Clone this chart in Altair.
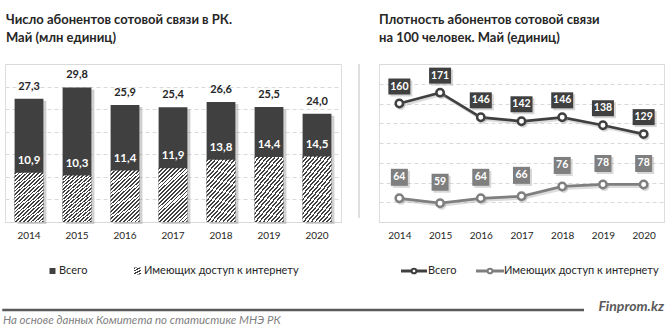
import altair as alt
import pandas as pd

# ---------------- data ----------------
years = ["2014", "2015", "2016", "2017", "2018", "2019", "2020"]
subs_total = [27.3, 29.8, 25.9, 25.4, 26.6, 25.5, 24.0]
subs_internet = [10.9, 10.3, 11.4, 11.9, 13.8, 14.4, 14.5]
dens_total = [160, 171, 146, 142, 146, 138, 129]
dens_internet = [64, 59, 64, 66, 76, 78, 78]

title_left = ["Число абонентов сотовой связи  в РК.", "Май (млн единиц)"]
title_right = ["Плотность абонентов сотовой связи", "на 100 человек. Май (единиц)"]
legend_labels = ["Всего", "Имеющих доступ к интернету"]
source_text = "На основе данных  Комитета по статистике МНЭ РК"
brand_text = "Finprom.kz"

# ---------------- styles ----------------
FONT = "Lato"
DARK = "#404040"
GREY = "#7f7f7f"
TXT = "#262626"
GRID = "#d9d9d9"
LW, LH = 336, 158
RW, RH = 285, 158


def hatch(n=34, frac=0.45):
    stops = []
    p = 1.0 / n
    for i in range(n):
        s = i * p
        m = s + frac * p
        e = min(s + p, 1.0)
        stops += [
            alt.GradientStop(offset=round(s, 5), color=DARK),
            alt.GradientStop(offset=round(m, 5), color=DARK),
            alt.GradientStop(offset=round(m, 5), color="white"),
            alt.GradientStop(offset=round(e, 5), color="white"),
        ]
    return alt.LinearGradient(gradient="linear", stops=stops, x1=0, y1=0, x2=1, y2=1.9)


left_df = pd.DataFrame({"year": years, "total": subs_total, "internet": subs_internet})
right_df = pd.DataFrame({"year": years, "total": dens_total, "internet": dens_internet})
dummy = alt.Data(values=[{"k": 1}])

x_axis = alt.Axis(title=None, labelAngle=0, ticks=False, domainColor=GRID, domainWidth=1,
                  labelPadding=8, labelFontSize=10, labelColor=TXT, labelFont=FONT, grid=False)

# ---------------- left chart ----------------
xL = alt.X("year:O", scale=alt.Scale(paddingInner=0.4, paddingOuter=0.2), axis=x_axis)
yax_L = alt.Axis(title=None, labels=False, ticks=False, domain=False, grid=True, tickCount=7,
                 gridDash=[4, 3], gridColor=GRID)


def yL(f):
    return alt.Y(f"{f}:Q", scale=alt.Scale(domain=[0, 35], nice=False), axis=yax_L)


lb = alt.Chart(left_df)
fmt = "replace(format(datum.{f},'.1f'),'.',',')"
l_shadow = lb.mark_bar(color="#8c8c8c", opacity=0.4, xOffset=3, yOffset=2).encode(x=xL, y=yL("total"))
l_bars = lb.mark_bar(color=DARK).encode(x=xL, y=yL("total"))
l_hatch = lb.mark_bar(fill=hatch(), strokeWidth=0).encode(x=xL, y=yL("internet"))
l_lab_tot = lb.transform_calculate(lbl=fmt.format(f="total")).mark_text(
    dy=-12, fontSize=11, fontWeight="bold", color=TXT, font=FONT).encode(x=xL, y=yL("total"), text="lbl:N")
l_lab_int = lb.transform_calculate(lbl=fmt.format(f="internet")).mark_text(
    dy=-12, fontSize=11.5, fontWeight="bold", color="white", font=FONT).encode(x=xL, y=yL("internet"), text="lbl:N")

d = alt.Chart(dummy)
anchor = d.mark_rule(opacity=0, strokeWidth=0).encode(
    x=alt.value(-4), x2=alt.value(-4), y=alt.value(-63), y2=alt.value(-63))
l_title = d.mark_text(text=title_left, align="left", baseline="middle", fontSize=13, fontWeight="bold",
                      color=TXT, font=FONT, lineHeight=18).encode(x=alt.value(1), y=alt.value(-44))
leg_sq = d.mark_square(color=DARK, size=36, opacity=1).encode(x=alt.value(47.5), y=alt.value(207))
leg_t1 = d.mark_text(text=legend_labels[0], align="left", baseline="middle", fontSize=11, color=TXT,
                     font=FONT).encode(x=alt.value(54), y=alt.value(207))
leg_hatch = d.mark_square(fill=hatch(6, 0.5), size=49, opacity=1, strokeWidth=0).encode(
    x=alt.value(132.5), y=alt.value(207))
leg_t2 = d.mark_text(text=legend_labels[1], align="left", baseline="middle", fontSize=11, color=TXT,
                     font=FONT).encode(x=alt.value(139), y=alt.value(207))
foot_rule = d.mark_rule(color="#595959", strokeWidth=2.5).encode(
    x=alt.value(-2.75), x2=alt.value(579), y=alt.value(246))
foot_brand = d.mark_text(text=brand_text, align="right", baseline="middle", fontSize=14, fontWeight="bold",
                         fontStyle="italic", color="#595959", font=FONT).encode(x=alt.value(659), y=alt.value(243))
foot_src = d.mark_text(text=source_text, align="left", baseline="middle", fontSize=11.5,
                       fontStyle="italic", color=GREY, font=FONT).encode(x=alt.value(-2), y=alt.value(257))

left = alt.layer(anchor, l_shadow, l_bars, l_hatch, l_lab_tot, l_lab_int, l_title,
                 leg_sq, leg_t1, leg_hatch, leg_t2, foot_rule, foot_brand, foot_src).properties(
    width=LW, height=LH)

# ---------------- right chart ----------------
xR = alt.X("year:O", scale=alt.Scale(type="point", padding=0.5), axis=x_axis)
yax_R = alt.Axis(title=None, labels=False, ticks=False, domain=False, grid=True, tickCount=8,
                 gridDash=[4, 3], gridColor=GRID)


def yR(f):
    return alt.Y(f"{f}:Q", scale=alt.Scale(domain=[40, 200], nice=False), axis=yax_R)


rb = alt.Chart(right_df)
BOX = "M-1,-0.727L1,-0.727L1,0.727L-1,0.727Z"
layers_r = []
for f, col, bshape, bsize, boff in [("total", DARK, BOX, 484, -17), ("internet", GREY, "square", 289, -21)]:
    layers_r.append(rb.mark_line(color="#9a9a9a", opacity=0.35, strokeWidth=3, xOffset=1.5, yOffset=2)
                    .encode(x=xR, y=yR(f)))
    layers_r.append(rb.mark_line(color=col, strokeWidth=2.75).encode(x=xR, y=yR(f)))
    layers_r.append(rb.mark_point(shape="circle", filled=True, color="#8c8c8c", opacity=0.35, size=80,
                                  xOffset=1.5, yOffset=2).encode(x=xR, y=yR(f)))
    layers_r.append(rb.mark_point(shape="circle", filled=True, fill="white", stroke=col, strokeWidth=2.5,
                                  size=55, opacity=1).encode(x=xR, y=yR(f)))
    layers_r.append(rb.mark_point(shape=bshape, filled=True, color="#8c8c8c", opacity=0.35, size=bsize,
                                  xOffset=2, yOffset=boff + 2).encode(x=xR, y=yR(f)))
    layers_r.append(rb.mark_point(shape=bshape, filled=True, color=col, opacity=1, size=bsize,
                                  yOffset=boff).encode(x=xR, y=yR(f)))
    layers_r.append(rb.mark_text(dy=boff, fontSize=10.5, fontWeight="bold", color="white", font=FONT)
                    .encode(x=xR, y=yR(f), text=f"{f}:Q"))

r_vline = d.mark_rule(color="#bfbfbf", strokeWidth=1).encode(
    x=alt.value(-20), y=alt.value(0), y2=alt.value(154))
r_title = d.mark_text(text=title_right, align="left", baseline="middle", fontSize=13, fontWeight="bold",
                      color=TXT, font=FONT, lineHeight=18).encode(x=alt.value(0), y=alt.value(-44))
r_leg = []
for (x1, x2, cx, tx), col, lab in [((22, 48, 35, 49), DARK, legend_labels[0]),
                                   ((97, 125, 111, 125), GREY, legend_labels[1])]:
    r_leg.append(d.mark_rule(color=col, strokeWidth=3).encode(x=alt.value(x1), x2=alt.value(x2), y=alt.value(207)))
    r_leg.append(d.mark_point(shape="circle", filled=True, fill="white", stroke=col, strokeWidth=2,
                              size=22, opacity=1).encode(x=alt.value(cx), y=alt.value(207)))
    r_leg.append(d.mark_text(text=lab, align="left", baseline="middle", fontSize=11, color=TXT,
                             font=FONT).encode(x=alt.value(tx), y=alt.value(207)))

right = alt.layer(r_vline, *layers_r, r_title, *r_leg).properties(width=RW, height=RH)

chart = alt.hconcat(left, right, spacing=38, bounds="flush").properties(
    padding={"left": 0, "top": 0, "right": 0, "bottom": 0}
).configure_view(stroke=None).configure(font=FONT)

chart.save("out.html", embed_options={"renderer": "svg", "actions": False})
